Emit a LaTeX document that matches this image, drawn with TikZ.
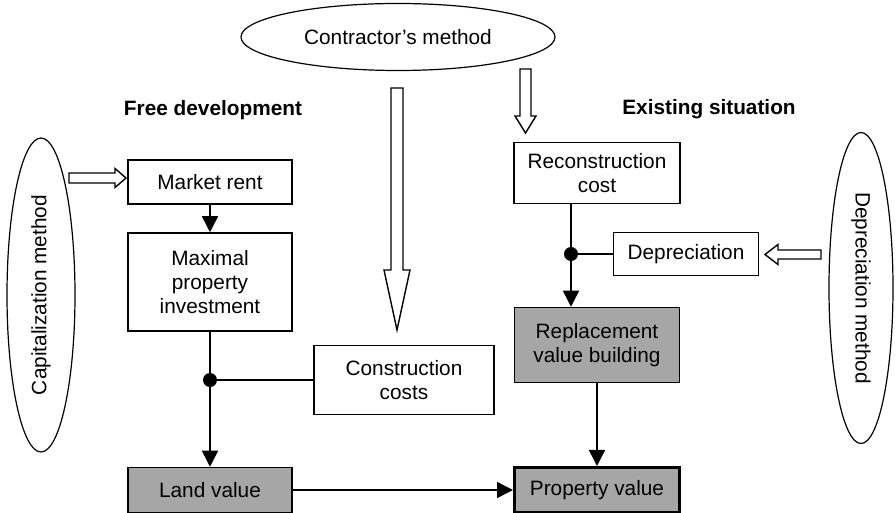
\documentclass[tikz,border=0pt]{standalone}
\usepackage{fontspec}
\setmainfont{Liberation Sans}
\usetikzlibrary{shapes.geometric,arrows.meta}

\definecolor{valuegray}{gray}{0.65}

\tikzset{
  box/.style={draw,line width=0.75pt,align=center,inner sep=2pt},
  valuebox/.style={box,fill=valuegray},
  method/.style={draw,ellipse,line width=0.6pt,inner sep=0pt},
  flow/.style={line width=0.75pt,-{Triangle[length=8pt,width=8pt]}},
  link/.style={line width=0.75pt},
  dot/.style={circle,fill,inner sep=0pt,minimum size=7pt},
  heading/.style={font=\fontsize{10.4}{11.8}\selectfont\bfseries},
  fat/.style={draw,fill=white,line width=0.7pt,line join=miter},
}

% hollow arrow: start, angle, length, shaft half width, head half width, head length
\newcommand\fatarrow[6]{%
  \path[fat,shift={#1},rotate=#2] (0,-#4) -- ({#3-#6},-#4) -- ({#3-#6},-#5)
    -- (#3,0) -- ({#3-#6},#5) -- ({#3-#6},#4) -- (0,#4) -- cycle;}

\begin{document}
\begin{tikzpicture}[x=0.5pt,y=-0.5pt,font=\fontsize{10.4}{11.8}\selectfont]
\useasboundingbox (0,0) rectangle (896,513);

\node[method,minimum width=157pt,minimum height=33.5pt] (contm) at (398,37) {Contractor's method};
\node[method,rotate=90,minimum width=157pt,minimum height=34pt] (capm) at (41,295) {Capitalization method};
\node[method,rotate=-90,minimum width=155.5pt,minimum height=32pt] (depm) at (861,288) {Depreciation method};

\node[heading] (free) at (213,110) {Free development};
\node[heading] (exist) at (709,109) {Existing situation};

% free development
\node[box,minimum width=82pt,minimum height=22pt] (rent) at (210,182) {Market rent};
\node[box,minimum width=82pt,minimum height=49pt] (maxinv) at (210,282) {Maximal\\property\\investment};
\node[valuebox,minimum width=82pt,minimum height=22.5pt] (land) at (210,490) {Land value};
\node[box,minimum width=90pt,minimum height=34.5pt] (constr) at (404,380) {Construction\\costs};

% existing situation
\node[box,minimum width=83pt,minimum height=30.5pt] (recon) at (597,173) {Reconstruction\\cost};
\node[box,minimum width=72.5pt,minimum height=21.5pt] (deprec) at (686,254) {Depreciation};
\node[valuebox,minimum width=82.5pt,minimum height=37.5pt] (repl) at (597,345) {Replacement\\value building};
\node[valuebox,line width=1.5pt,minimum width=82.5pt,minimum height=22.5pt] (prop) at (597,490) {Property value};

\node[dot] (jl) at (maxinv.south |- constr.west) {};
\node[dot] (jr) at (571,254) {};

\draw[flow] (rent) -- (maxinv);
\draw[link] (maxinv) -- (jl);
\draw[flow] (jl) -- (land);
\draw[link] (jl) -- (constr);
\draw[flow] (land) -- (prop);

\draw[link] (recon.south -| jr) -- (jr);
\draw[link] (jr) -- (deprec);
\draw[flow] (jr) -- (repl.north -| jr);
\draw[flow] (repl) -- (prop);

\coordinate (captail) at (69,178);
\coordinate (deptail) at (821,254.5);
\coordinate (conttail) at (397,88);
\coordinate (recontail) at (525.5,69);
\fatarrow{(captail)}{0}{57}{5}{9.5}{11}
\fatarrow{(deptail)}{180}{56}{4.5}{10}{13}
\fatarrow{(conttail)}{-90}{242}{6}{13}{60}
\fatarrow{(recontail)}{-90}{64}{5.5}{10.5}{17}
\end{tikzpicture}
\end{document}
